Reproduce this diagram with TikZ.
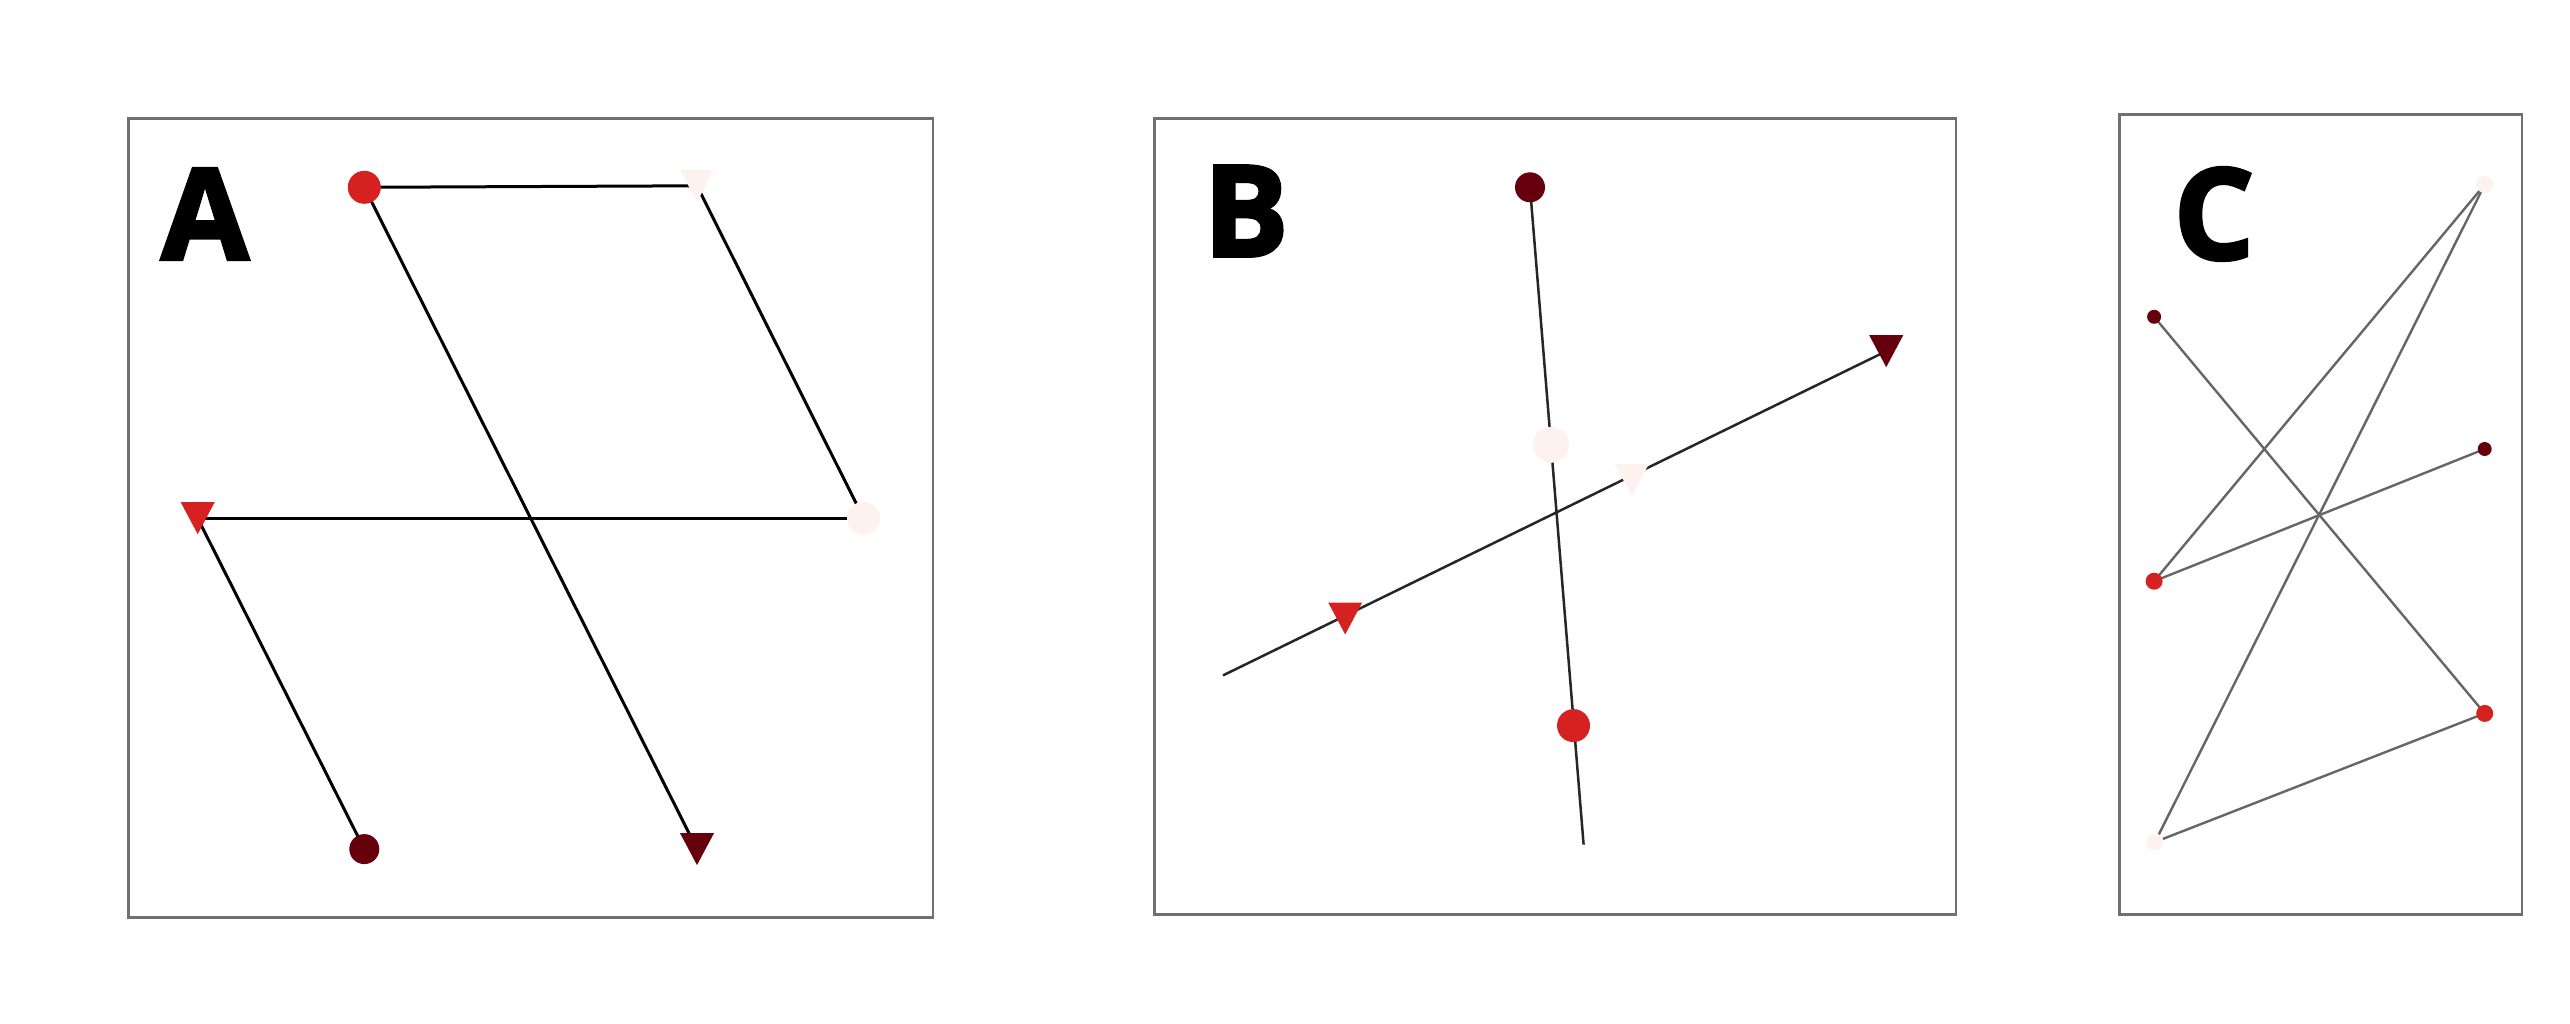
\documentclass[tikz,border=0pt]{standalone}
\usepackage{fontspec}
\newfontfamily\labfont{Open Sans}[BoldFeatures={FakeBold=2.5}]
\usetikzlibrary{backgrounds}
\definecolor{cred}{HTML}{D52221}
\definecolor{cdark}{HTML}{67000D}
\definecolor{clight}{HTML}{FDF2EE}
\definecolor{cframe}{HTML}{707070}
\tikzset{
  panel/.style={draw=cframe, line width=2.5pt},
  lab/.style={inner sep=0pt, font=\labfont\bfseries\fontsize{127}{127}\selectfont},
  dotbig/.style={circle, inner sep=0pt, minimum size=33pt, fill=#1},
  dotsmall/.style={circle, inner sep=0pt, minimum size=#1},
  tri/.style={rectangle, inner sep=0pt, minimum width=34pt, minimum height=32pt,
    path picture={\fill[#1] (path picture bounding box.north west) -- (path picture bounding box.north east) -- (path picture bounding box.south) -- cycle;}},
  edgeA/.style={draw=black, line width=3pt},
  edgeB/.style={draw=black!85, line width=2.5pt},
  edgeC/.style={draw=black!60, line width=2.4pt},
}
\begin{document}
\begin{tikzpicture}[x=1pt,y=-1pt]
\useasboundingbox (0,0) rectangle (2570,1024);
% frames
\draw[panel] (128.3,118.7) rectangle (933,917.7);
\draw[panel] (1154.3,118.7) rectangle (1956,914.3);
\draw[panel] (2119.7,114.7) rectangle (2522,914.3);
% labels
\node[lab] (labA) at (205,214) {A};
\node[lab] (labB) at (1246,211) {B};
\node[lab] (labC) at (2214,214) {C};
% panel A
\node[dotbig=cred] (ra) at (364.3,187.3) {};
\node[tri=clight] (lta) at (697,185.8) {};
\node[dotbig=clight] (lca) at (863.6,518.2) {};
\node[tri=cred] (rta) at (197.7,518.2) {};
\node[dotbig=cdark, minimum size=30pt] (dca) at (364.3,849.1) {};
\node[tri=cdark] (dta) at (697,849.1) {};
% panel B
\node[dotbig=cdark, minimum size=30pt] (dcb) at (1530,187.3) {};
\node[dotbig=clight, minimum size=36pt] (lcb) at (1551,444.8) {};
\node[tri=clight] (ltb) at (1631.8,480) {};
\node[tri=cred] (rtb) at (1345.2,618.5) {};
\node[dotbig=cred] (rcb) at (1573.5,725.6) {};
\node[tri=cdark] (dtb) at (1886.2,351.2) {};
\coordinate (b1end) at (1583.6,844.6);
\coordinate (b2start) at (1223,675.4);
% panel C
\node[dotsmall=17pt, fill=clight] (c1) at (2484.7,184.6) {};
\node[dotsmall=14pt, fill=cdark] (c2) at (2154.1,316.8) {};
\node[dotsmall=14pt, fill=cdark] (c3) at (2484.7,449) {};
\node[dotsmall=17pt, fill=cred] (c4) at (2154.1,581.2) {};
\node[dotsmall=17pt, fill=cred] (c5) at (2484.7,713.4) {};
\node[dotsmall=17pt, fill=clight] (c6) at (2155,842) {};
\begin{scope}[on background layer]
  \draw[edgeA] (ra.center) -- (lta.center);
  \draw[edgeA] (lta.center) -- (lca.center);
  \draw[edgeA] (lca.center) -- (rta.center);
  \draw[edgeA] (rta.center) -- (dca.center);
  \draw[edgeA] (ra.center) -- (dta.center);
  \draw[edgeB] (dcb.center) -- (b1end);
  \draw[edgeB] (b2start) -- (dtb.center);
  \draw[edgeC] (c1.center) -- (c4.center);
  \draw[edgeC] (c1.center) -- (c6.center);
  \draw[edgeC] (c2.center) -- (c5.center);
  \draw[edgeC] (c4.center) -- (c3.center);
  \draw[edgeC] (c6.center) -- (c5.center);
\end{scope}
\end{tikzpicture}
\end{document}
